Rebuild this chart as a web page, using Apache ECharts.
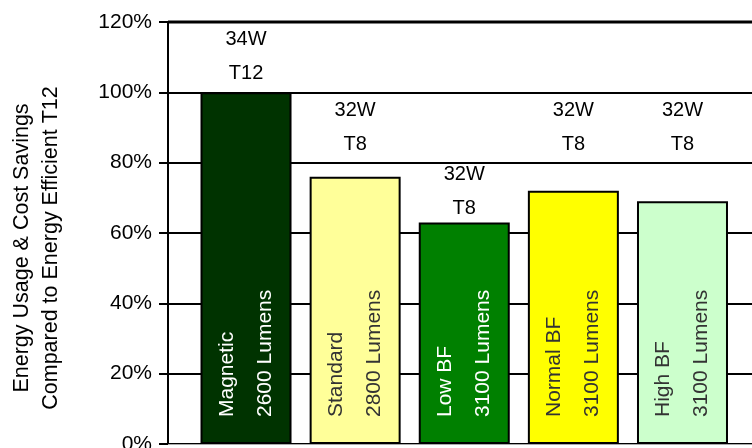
<!DOCTYPE html>
<html>
<head>
<meta charset="utf-8">
<script src="https://cdn.jsdelivr.net/npm/echarts@6/dist/echarts.min.js"></script>
<style>
  html, body {margin: 0; padding: 0; background: #fff;}
  #chart {width: 752px; height: 448px;}
</style>
</head>
<body>
<div id="chart"></div>
<script>
  /*
    chart data
  */
  var lampTypes   = ['Magnetic', 'Standard', 'Low BF', 'Normal BF', 'High BF'],
      lumens      = ['2600 Lumens', '2800 Lumens', '3100 Lumens', '3100 Lumens', '3100 Lumens'],
      wattage     = ['34W', '32W', '32W', '32W', '32W'],
      tubes       = ['T12', 'T8', 'T8', 'T8', 'T8'],
      usagePct    = [100, 76, 63, 72, 69],
      tagLevelPct = [110.3, 89.9, 71.7, 89.9, 89.9],
      yTicks      = [0, 20, 40, 60, 80, 100, 120];

(function(){
  'use strict';

  var barColors  = ['#003300', '#ffff99', '#008000', '#ffff00', '#ccffcc'],
      textColors = ['#ffffff', '#333333', '#ffffff', '#333333', '#333333'],
      font       = '"Liberation Sans", Arial, sans-serif';

  // 每个柱子对应一个 [index, value]，用数值型 x 轴定位
  var barData = usagePct.map(function(v, i){
    return {
      value: [i, v],
      itemStyle: {color: barColors[i]},
      label: {color: textColors[i]}
    };
  });

  var tagData = tagLevelPct.map(function(v, i){
    return [i, v];
  });

  var option = {
    animation: false,
    backgroundColor: '#fff',
    grid: {left: 168, right: 0, top: 22, bottom: 4, containLabel: false, outerBoundsMode: 'none'},
    xAxis: {
      type: 'value',
      min: -0.715,
      max: 4.637,
      axisLine: {show: true, onZero: false, offset: 3, lineStyle: {color: '#aaaaaa', width: 1}},
      axisTick: {show: false},
      axisLabel: {show: false},
      splitLine: {show: false}
    },
    yAxis: {
      type: 'value',
      min: yTicks[0],
      max: yTicks[yTicks.length - 1],
      interval: 20,
      axisLine: {show: true, onZero: false, lineStyle: {color: '#000', width: 2}},
      axisTick: {show: true, length: 9, lineStyle: {color: '#000', width: 2}},
      axisLabel: {
        formatter: '{value}%',
        margin: 16,
        color: '#000',
        fontFamily: font,
        fontSize: 21
      },
      splitLine: {show: true, lineStyle: {color: '#000', width: 2}}
    },
    graphic: [{
      type: 'text',
      x: 37,
      y: 248,
      rotation: Math.PI / 2,
      style: {
        text: 'Energy Usage & Cost Savings\nCompared to Energy Efficient T12',
        fontFamily: font,
        fontSize: 21.5,
        lineHeight: 29,
        fill: '#000',
        align: 'center',
        verticalAlign: 'middle'
      }
    }, {
      // 顶部加粗边线
      type: 'line',
      shape: {x1: 168, y1: 22, x2: 752, y2: 22},
      style: {stroke: '#000', lineWidth: 3},
      z: 5
    }],
    series: [{
      name: 'usage',
      type: 'bar',
      barWidth: 91,
      data: barData,
      itemStyle: {borderColor: '#000', borderWidth: 2},
      label: {
        show: true,
        position: 'insideBottom',
        distance: 27,
        rotate: 90,
        align: 'left',
        verticalAlign: 'middle',
        fontFamily: font,
        fontSize: 21,
        lineHeight: 38,
        formatter: function(p){
          return lampTypes[p.dataIndex] + '\n' + lumens[p.dataIndex];
        }
      }
    }, {
      name: 'tag',
      type: 'scatter',
      symbolSize: 0,
      data: tagData,
      silent: true,
      itemStyle: {opacity: 1},
      label: {
        show: true,
        position: 'inside',
        color: '#000',
        fontFamily: font,
        fontSize: 20,
        lineHeight: 34,
        formatter: function(p){
          return wattage[p.dataIndex] + '\n' + tubes[p.dataIndex];
        }
      }
    }]
  };

  echarts.init(document.getElementById('chart')).setOption(option);
})();
</script>
</body>
</html>
